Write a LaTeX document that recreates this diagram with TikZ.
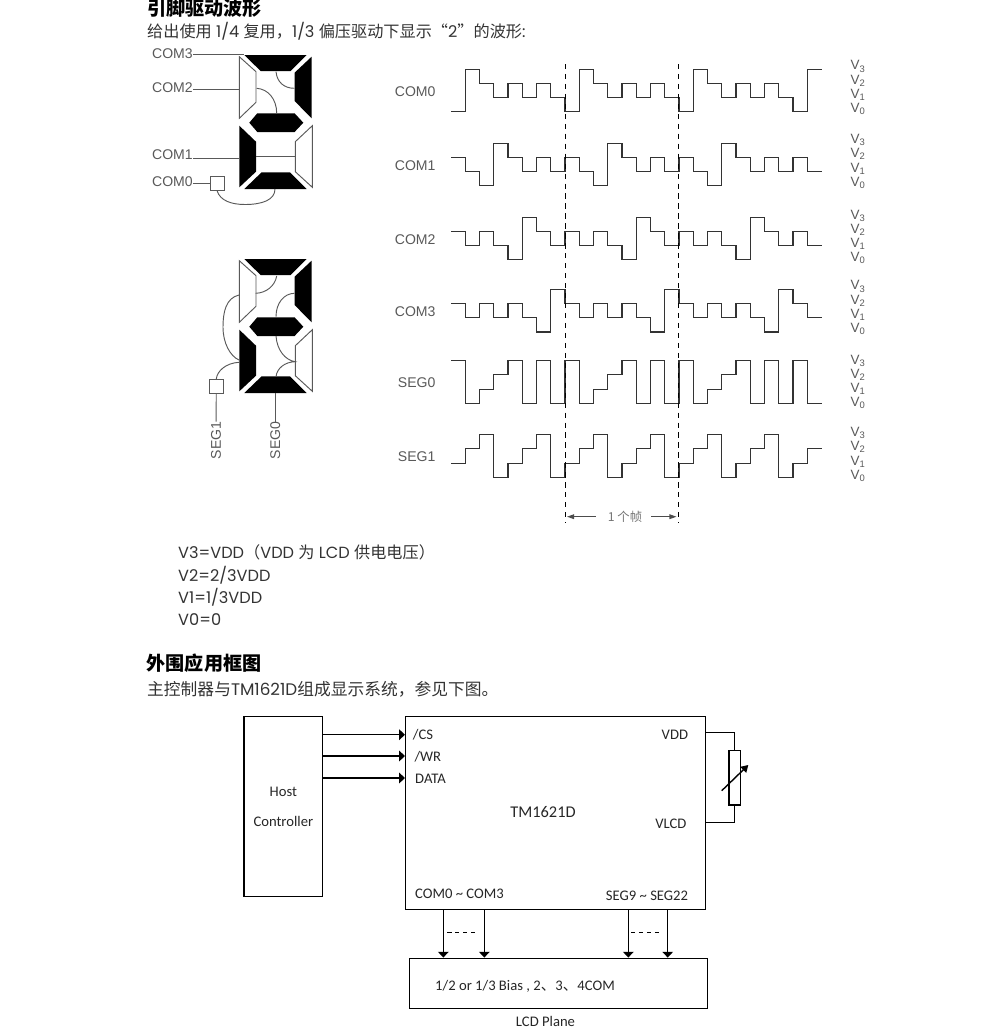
\documentclass[tikz,border=0pt]{standalone}
\usepackage{fontspec}
\setmainfont{Poppins}
\newfontfamily\cjkfont{Noto Sans CJK SC}
\newfontfamily\arialfont{Liberation Sans}
\newfontfamily\blockfont{Carlito}
\usetikzlibrary{arrows.meta}
\tikzset{
  bodytext/.style={anchor=west,inner sep=0,text=black!80,font=\fontsize{13.8}{16}\selectfont},
  headtext/.style={anchor=west,inner sep=0,text=black,font=\cjkfont\bfseries\fontsize{16.3}{18}\selectfont},
  wavetext/.style={inner sep=0,text=black!65,font=\arialfont\fontsize{12}{14}\selectfont},
  blocktext/.style={inner sep=0,text=black!85,font=\blockfont\fontsize{12.5}{15}\selectfont},
  wave/.style={line width=0.9pt,black!80,line join=miter},
  wire/.style={line width=0.8pt,black!65},
  conn/.style={line width=1.2pt,black},
  pinarrow/.style={conn,-{Triangle[length=5pt,width=9pt]}},
  blockbox/.style={draw,line width=1.2pt,inner sep=0,minimum width=#1},
}

\begin{document}
\begin{tikzpicture}[x=0.03cm,y=-0.03cm]
  \useasboundingbox (0,0) rectangle (991,1034);

  % headings and text
  \node[headtext] (headwave) at (147,8.5) {引脚驱动波形};
  \node[bodytext] (introwave) at (147,31) {{\cjkfont 给出使用} 1/4 {\cjkfont 复用，}1/3 {\cjkfont 偏压驱动下显示“}2{\cjkfont ”的波形}:};
  \node[bodytext] (vthree) at (178,552) {V3=VDD{\cjkfont （}VDD {\cjkfont 为} LCD {\cjkfont 供电电压）}};
  \node[bodytext] (vtwo) at (178,575) {V2=2/3VDD};
  \node[bodytext] (vone) at (178,597.5) {V1=1/3VDD};
  \node[bodytext] (vzero) at (178,620) {V0=0};
  \node[headtext] (headapp) at (146.5,663) {外围应用框图};
  \node[bodytext,font=\fontsize{14.3}{16}\selectfont] (introapp) at (147,689) {{\cjkfont 主控制器与}TM1621D{\cjkfont 组成显示系统，参见下图。}};

  % the two digits
  \foreach \dy in {0,204}
  {
  \begin{scope}[shift={(244.3,55+\dy)}]
    \fill (0,0) -- (62.3,0) -- (46.3,16) -- (16.3,16) -- cycle;
    \fill (67.3,1.7) -- (67.3,63.3) -- (50.3,46) -- (50.3,17.7) -- cycle;
    \fill (5,67.7) -- (13,58.3) -- (50.3,58.3) -- (59,67.7) -- (50.3,77) -- (13,77) -- cycle;
    \fill (-5,70.7) -- (11.7,86.7) -- (11.7,116.7) -- (-5,132.3) -- cycle;
    \fill (0,134) -- (17.3,117.3) -- (45.7,117.3) -- (62.3,134) -- cycle;
    \draw[wire] (-5,1.7) -- (11.7,16.7) -- (11.7,47.3) -- (-5,63.3) -- cycle;
    \draw[wire] (68,70.7) -- (68,132.3) -- (51,116.7) -- (51,86.7) -- cycle;
  \end{scope}
  }

  % upper digit wires
  \foreach \name/\ty/\ly/\lx in {COM3/53.3/54.3/244,COM2/87.7/89.3/239.3,COM1/155/158.7/239.3}
  {
    \node[wavetext,anchor=east] (\name dig) at (193,\ty) {\name};
    \coordinate (\name end) at (\lx,\ly);
    \draw[wire] (\name dig.east |- \name end) -- (\name end);
  }
  \node[wavetext,anchor=east] (COM0dig) at (193,181.7) {COM0};
  \node[draw=black!65,line width=0.8pt,inner sep=0,minimum size=0.42cm] (COM0box) at (217,183) {};
  \draw[wire] (COM0dig.east |- COM0box) -- (COM0box);
  \draw[wire] (256,156.7) -- (295.3,156.7);
  \draw[wire] (COM0box.south) .. controls (220,201) and (232,204.5) .. (245,204.5) .. controls (262,204.5) and (275,200) .. (275,189);
  \draw[wire] (276,71.7) .. controls (277,82) and (284,88.3) .. (294.3,88.3);
  \draw[wire] (256.7,88.3) .. controls (268,89) and (276.7,99) .. (276.7,113.3);

  % lower digit wires
  \node[draw=black!65,line width=0.8pt,inner sep=0,minimum size=0.42cm] (SEG1box) at (216.3,386.5) {};
  \node[wavetext,rotate=90,anchor=east] (SEG1dig) at (216,421.5) {SEG1};
  \node[wavetext,rotate=90,anchor=east] (SEG0dig) at (275.3,421.5) {SEG0};
  \coordinate (SEG0seg) at (275.3,393);
  \draw[wire] (SEG1box) -- (SEG1dig);
  \draw[wire] (SEG0seg) -- (SEG0dig);
  \draw[wire] (SEG1box.north) .. controls (217,371) and (226,363) .. (239,362.3);
  \draw[wire] (239,295) .. controls (226,298) and (223,312) .. (223,327) .. controls (223,343) and (230,356) .. (239,360);
  \draw[wire] (276.7,276) .. controls (275,286) and (266,293) .. (255.7,293.3);
  \draw[wire] (294.3,293.3) .. controls (284,293.5) and (276,303) .. (276,316.7);
  \draw[wire] (276,336) .. controls (277,350) and (285,360) .. (295,361.7) .. controls (285,362) and (277,368) .. (276,376.7);

  % wave forms
  \foreach \yb/\yv/\name/\first/\seq in {
    111.7/109/COM0/0/{0,3,2,1,2,1,2,1,0,3,2,1,2,1,2,1,0,3,2,1,2,1,2,1,0,3},
    185.7/182.7/COM1/2/{2,1,0,3,2,1,2,1,2,1,0,3,2,1,2,1,2,1,0,3,2,1,2,1,2,1},
    259.7/258.3/COM2/2/{2,1,2,1,0,3,2,1,2,1,2,1,0,3,2,1,2,1,2,1,0,3,2,1,2,1},
    332/329/COM3/2/{2,1,2,1,2,1,0,3,2,1,2,1,2,1,0,3,2,1,2,1,2,1,0,3,2,1},
    403.3/403.3/SEG0/3/{3,0,1,2,3,0,3,0,3,0,1,2,3,0,3,0,3,0,1,2,3,0,3,0,3,0},
    477.3/475.7/SEG1/1/{1,2,3,0,1,2,3,0,1,2,3,0,1,2,3,0,1,2,3,0,1,2,3,0,1,2}}
  {
    \node[wavetext,anchor=east] (\name wave) at (435.7,\yb-20.3) {\name};
    \draw[wave] (451,{\yb-14.2*\first}) foreach \lv [count=\i from 0] in \seq
      { -- ({451+14.25*\i},{\yb-14.2*\lv}) -- ({451+14.25*(\i+1)},{\yb-14.2*\lv}) };
    \foreach \k in {0,...,3}
      \node[wavetext,anchor=west,font=\arialfont\fontsize{11.5}{14}\selectfont] (\name v\k) at (850.5,\yv-14.2*\k) {V\textsubscript{\k}};
  }

  % frame marks
  \coordinate (frameatop) at (565,64);
  \coordinate (framebtop) at (678.7,64);
  \coordinate (frameabot) at (565,523);
  \coordinate (framebbot) at (678.7,523);
  \draw[line width=0.8pt,dash pattern=on 4.5pt off 4pt] (frameatop) -- (frameabot);
  \draw[line width=0.8pt,dash pattern=on 4.5pt off 4pt] (framebtop) -- (framebbot);
  \node[wavetext,font=\cjkfont\fontsize{10.5}{12}\selectfont,text=black!55] (framelab) at (625,516.7) {1 个帧};
  \draw[conn,black!70,line width=0.9pt,-{Triangle[length=6pt,width=4pt]}] (framelab.west) ++(-12,0) -- (567,516.7);
  \draw[conn,black!70,line width=0.9pt,-{Triangle[length=6pt,width=4pt]}] (framelab.east) ++(9,0) -- (676.5,516.7);

  % block diagram
  \node[blockbox=2.361cm,minimum height=5.4cm,blocktext,align=center] (host) at (283.35,806.7) {Host\\[0.37cm]Controller};
  \node[blockbox=9cm,minimum height=5.78cm] (tm) at (555.7,813) {};
  \node[blockbox=8.952cm,minimum height=1.5cm] (lcd) at (558.5,983.3) {};
  \node[blocktext,anchor=west] (cspin) at (412.7,735) {/CS};
  \node[blocktext,anchor=west] (wrpin) at (414.3,757) {/WR};
  \node[blocktext,anchor=west] (datapin) at (415,779) {DATA};
  \node[blocktext,anchor=west] (compin) at (415,894) {COM0 \textasciitilde\ COM3};
  \node[blocktext,font=\blockfont\fontsize{14}{16}\selectfont] (tmlab) at (543,811.7) {TM1621D};
  \node[blocktext,anchor=east] (vddpin) at (688.3,735) {VDD};
  \node[blocktext,anchor=east] (vlcdpin) at (686.7,824) {VLCD};
  \node[blocktext,anchor=east] (segpin) at (688.3,896) {SEG9 \textasciitilde\ SEG22};
  \node[blocktext] (lcdlab) at (525,986) {1/2 or 1/3 Bias , 2{\cjkfont 、}3{\cjkfont 、}4COM};
  \node[blocktext] (lcdname) at (545.5,1021.7) {LCD Plane};

  \foreach \pin/\py in {cs/734.7,wr/756,data/778}
  {
    \coordinate (\pin in) at (tm.west |- 0,\py);
    \draw[pinarrow] (host.east |- \pin in) -- (\pin in);
  }
  \foreach \pin/\px in {a/443.3,b/484.3,c/628.3,d/667.7}
  {
    \coordinate (\pin out) at (\px,909.3);
    \draw[pinarrow] (\pin out |- tm.south) -- (\pin out |- lcd.north);
  }
  \coordinate (dashaa) at (447.3,932.3);
  \coordinate (dashab) at (476,932.3);
  \coordinate (dashba) at (631,932.3);
  \coordinate (dashbb) at (659,932.3);
  \draw[line width=0.8pt,dash pattern=on 3.6pt off 3.2pt] (dashaa) -- (dashab);
  \draw[line width=0.8pt,dash pattern=on 3.6pt off 3.2pt] (dashba) -- (dashbb);

  % trim resistor
  \node[blockbox=0.339cm,minimum height=1.63cm] (trim) at (734.6,777.9) {};
  \coordinate (vddout) at (tm.east |- 0,732.7);
  \coordinate (vlcdout) at (tm.east |- 0,822.7);
  \draw[conn] (vddout) -| (trim.north);
  \draw[conn] (vlcdout) -| (trim.south);
  \coordinate (trimfrom) at (721.7,790.7);
  \coordinate (trimto) at (748.3,765);
  \draw[conn,-{Triangle[length=6pt,width=7pt]}] (trimfrom) -- (trimto);
\end{tikzpicture}
\end{document}
